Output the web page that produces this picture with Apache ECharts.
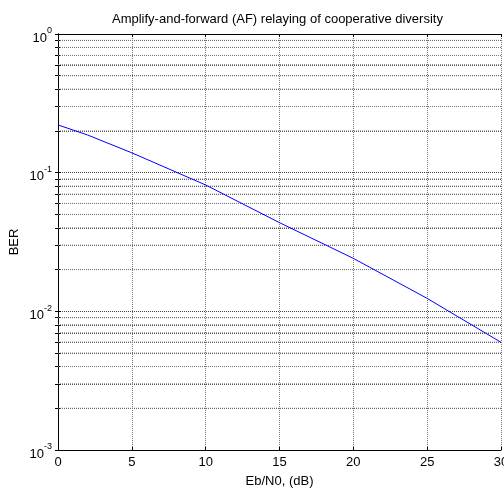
<!DOCTYPE html>
<html><head><meta charset="utf-8">
<script src="https://cdn.jsdelivr.net/npm/echarts@6/dist/echarts.min.js"></script>
<style>html,body{margin:0;padding:0;background:#fff}#c{width:504px;height:494px}</style>
</head><body><div id="c"></div>
<script>
const snrDb = [0, 2, 5, 10, 15, 20, 25, 30];
const ber = [0.221, 0.187, 0.139, 0.0815, 0.0436, 0.0241, 0.0124, 0.00598];
const xTicks = [0, 5, 10, 15, 20, 25, 30];
const yDecades = [-3, -2, -1, 0];
const titleText = 'Amplify-and-forward (AF) relaying of cooperative diversity';
const xName = 'Eb/N0, (dB)';
const yName = 'BER';

const minorVals = [];
for (const d of [-3, -2, -1]) for (let m = 2; m <= 9; m++) minorVals.push(+(m * Math.pow(10, d)).toPrecision(6));
const majorVals = yDecades.map(e => Math.pow(10, e));
const allTicks = majorVals.concat(minorVals).sort((a, b) => a - b);

const font = 'Liberation Sans, Arial, sans-serif';
const grid = {left: 58, right: 3, top: 34, bottom: 44, outerBoundsMode: 'none', containLabel: false};
const dotted = {color: '#777', width: 1, type: [1, 1]};

const gridSeries = minorVals.map(v => ({
  type: 'line', xAxisIndex: 0, yAxisIndex: 0, silent: true,
  data: [[xTicks[0], v], [xTicks[xTicks.length - 1], v]],
  showSymbol: false, symbol: 'none', animation: false,
  lineStyle: dotted, z: 1, tooltip: {show: false}
}));

const chart = echarts.init(document.getElementById('c'));
chart.setOption({
  animation: false,
  backgroundColor: '#fff',
  title: {text: titleText, left: 107, top: 8,
    textStyle: {fontFamily: font, fontSize: 13, fontWeight: 'normal', color: '#000'}},
  grid: grid,
  xAxis: [{
    type: 'value', min: 0, max: 30, interval: 5,
    name: xName, nameLocation: 'middle', nameGap: 25, nameMoveOverlap: false,
    nameTextStyle: {fontFamily: font, fontSize: 13, color: '#000'},
    axisLine: {show: true, onZero: false, lineStyle: {color: '#000', width: 1}},
    axisTick: {show: true, inside: true, length: 3, lineStyle: {color: '#000'}},
    axisLabel: {fontFamily: font, fontSize: 13, color: '#000', margin: 6, alignMaxLabel: 'center'},
    splitLine: {show: true, lineStyle: dotted}
  }, {
    type: 'value', min: 0, max: 30, interval: 5, position: 'top',
    axisLine: {show: true, lineStyle: {color: '#000', width: 1}},
    axisTick: {show: true, inside: true, length: 3, lineStyle: {color: '#000'}},
    axisLabel: {show: false}, splitLine: {show: false}
  }],
  yAxis: [{
    type: 'log', logBase: 10, min: 0.001, max: 1,
    name: yName, nameLocation: 'middle', nameGap: 37, nameRotate: 90, nameMoveOverlap: false,
    nameTextStyle: {fontFamily: font, fontSize: 13, color: '#000'},
    axisLine: {show: true, onZero: false, lineStyle: {color: '#000', width: 1}},
    axisTick: {show: true, inside: true, length: 3, lineStyle: {color: '#000'}, customValues: allTicks},
    axisLabel: {
      margin: 6,
      formatter: function (v) {
        const e = Math.round(Math.log10(v));
        return '{b|10}{s|' + e + '}';
      },
      rich: {
        b: {fontFamily: font, fontSize: 13, color: '#000', padding: [8, 0, 0, 0]},
        s: {fontFamily: font, fontSize: 9, color: '#000', padding: [0, 0, 6, 0]}
      }
    },
    splitLine: {show: true, lineStyle: {color: '#444', width: 1, type: [1, 1]}}
  }, {
    type: 'log', logBase: 10, min: 0.001, max: 1, position: 'right',
    axisLine: {show: true, lineStyle: {color: '#000', width: 1}},
    axisTick: {show: true, inside: true, length: 3, lineStyle: {color: '#000'}, customValues: allTicks},
    axisLabel: {show: false}, splitLine: {show: false}
  }],
  series: gridSeries.concat([{
    type: 'line', xAxisIndex: 0, yAxisIndex: 0,
    data: snrDb.map((x, i) => [x, ber[i]]),
    showSymbol: false, symbol: 'none',
    lineStyle: {color: '#0000ff', width: 1}, itemStyle: {color: '#0000ff'},
    z: 5
  }])
});
</script></body></html>
